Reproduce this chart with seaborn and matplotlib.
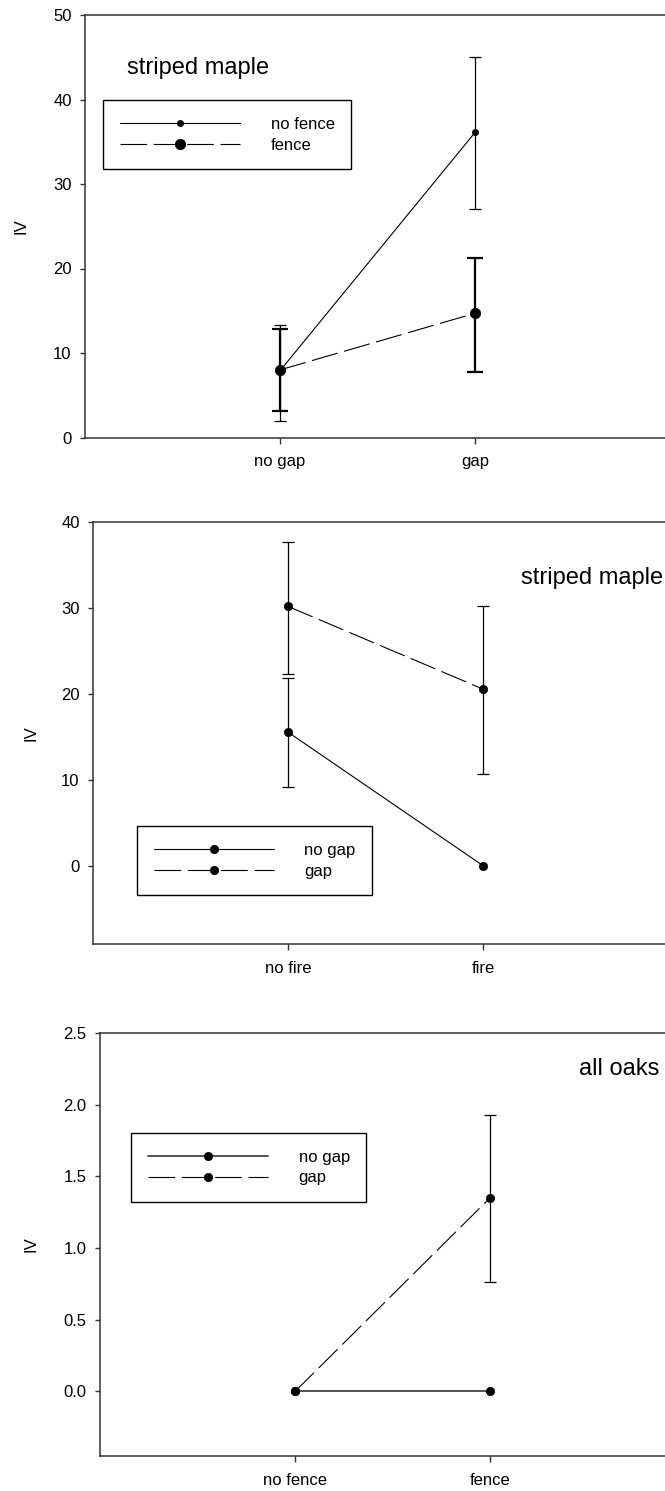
import numpy as np
import matplotlib
matplotlib.use("Agg")
import matplotlib.pyplot as plt
import seaborn as sns

# ---- data -------------------------------------------------------------
# Panel 1: striped maple, gap x fence
gap_cats = ["no gap", "gap"]
nofence_mean = [7.9, 36.1]
nofence_lo = [1.9, 27.0]
nofence_hi = [13.35, 45.0]
fence_mean = [8.0, 14.7]
fence_lo = [3.1, 7.8]
fence_hi = [12.8, 21.3]

# Panel 2: striped maple, fire x gap
fire_cats = ["no fire", "fire"]
nogap_fire_mean = [15.6, 0.1]
nogap_fire_lo = [9.2, np.nan]
nogap_fire_hi = [21.85, np.nan]
gap_fire_mean = [30.2, 20.6]
gap_fire_lo = [22.4, 10.7]
gap_fire_hi = [37.7, 30.2]

# Panel 3: all oaks, fence x gap
fence_cats = ["no fence", "fence"]
nogap_oak_mean = [0.0, 0.0]
nogap_oak_lo = [np.nan, np.nan]
nogap_oak_hi = [np.nan, np.nan]
gap_oak_mean = [0.0, 1.35]
gap_oak_lo = [np.nan, 0.76]
gap_oak_hi = [np.nan, 1.93]

# ---- style ------------------------------------------------------------
sns.set_style("ticks")
plt.rcParams["font.family"] = ["Liberation Sans", "DejaVu Sans"]
plt.rcParams["font.size"] = 12
plt.rcParams["text.color"] = "black"
plt.rcParams["axes.labelcolor"] = "black"
plt.rcParams["xtick.labelcolor"] = "black"
plt.rcParams["ytick.labelcolor"] = "black"

AXCOL = "#333333"
LONG_DASH = (0, (24, 6))


def draw_series(ax, cats, mean, lo, hi, label, ls, ms, elw, cap, lw=0.8, color="black"):
    sns.lineplot(x=cats, y=mean, ax=ax, color=color, linewidth=lw, linestyle=ls,
                 marker="o", markersize=ms, markeredgecolor="black",
                 markerfacecolor="black", markeredgewidth=0.5,
                 sort=False, errorbar=None, label=label, legend=False, zorder=3)
    mean = np.asarray(mean, float)
    lo = np.asarray(lo, float)
    hi = np.asarray(hi, float)
    mask = ~np.isnan(lo)
    if mask.any():
        xs = [c for c, m in zip(cats, mask) if m]
        ax.errorbar(xs, mean[mask], yerr=[mean[mask] - lo[mask], hi[mask] - mean[mask]],
                    fmt="none", ecolor="black", elinewidth=elw, capsize=cap,
                    capthick=elw, zorder=2)


def style_axes(ax, ylim, yticks, yfmt, ylabel_x):
    ax.set_xlim(-1, 2)
    ax.set_ylim(*ylim)
    ax.set_yticks(yticks)
    ax.set_yticklabels([yfmt.format(t) for t in yticks])
    for s in ax.spines.values():
        s.set_color(AXCOL)
        s.set_linewidth(1.1)
        s.set_visible(True)
    ax.tick_params(axis="y", direction="out", length=3.6, width=1, color=AXCOL,
                   pad=6, labelsize=12, right=False, labelcolor="black")
    ax.tick_params(axis="x", direction="out", length=4, width=1, color=AXCOL,
                   pad=8, labelsize=12, top=False, labelcolor="black")
    ax.set_xlabel("")
    ax.set_ylabel("IV", fontsize=12, color="black")
    ax.yaxis.set_label_coords(ylabel_x, 0.5)


def add_legend(ax, anchor):
    leg = ax.legend(loc="upper left", bbox_to_anchor=anchor, borderaxespad=0,
                    frameon=True, fancybox=False, edgecolor="black", framealpha=1,
                    handlelength=7.2, handletextpad=1.85, borderpad=1.0,
                    labelspacing=0.35, fontsize=12, numpoints=1)
    leg.get_frame().set_linewidth(1.0)
    for t in leg.get_texts():
        t.set_color("black")


fig = plt.figure(figsize=(6.65, 14.91), dpi=100)
W, H = 665.0, 1491.0


def axes_px(left, top, bottom):
    return fig.add_axes([left / W, 1 - bottom / H, 585 / W, (bottom - top) / H])


# ---- panel 1 ----------------------------------------------------------
ax1 = axes_px(85, 15, 437.5)
draw_series(ax1, gap_cats, nofence_mean, nofence_lo, nofence_hi, "no fence",
            "-", 4.5, 0.9, 4.5)
draw_series(ax1, gap_cats, fence_mean, fence_lo, fence_hi, "fence",
            LONG_DASH, 7.5, 1.6, 6)
style_axes(ax1, (0, 50), [0, 10, 20, 30, 40, 50], "{:g}", -0.097)
ax1.text(0.0718, 0.874, "striped maple", transform=ax1.transAxes, fontsize=17,
         ha="left", va="center", color="black")
add_legend(ax1, (0.0308, 0.7986))

# ---- panel 2 ----------------------------------------------------------
ax2 = axes_px(93, 522, 944)
draw_series(ax2, fire_cats, nogap_fire_mean, nogap_fire_lo, nogap_fire_hi, "no gap",
            "-", 6, 0.9, 4.5)
draw_series(ax2, fire_cats, gap_fire_mean, gap_fire_lo, gap_fire_hi, "gap",
            LONG_DASH, 6, 0.9, 4.5)
style_axes(ax2, (-9, 40), [0, 10, 20, 30, 40], "{:g}", -0.094)
ax2.text(0.7316, 0.867, "striped maple", transform=ax2.transAxes, fontsize=17,
         ha="left", va="center", color="black")
add_legend(ax2, (0.0752, 0.2796))

# ---- panel 3 ----------------------------------------------------------
ax3 = axes_px(100, 1033, 1456)
draw_series(ax3, fence_cats, nogap_oak_mean, nogap_oak_lo, nogap_oak_hi, "no gap",
            "-", 6, 0.9, 4.5, lw=1.3, color="#444444")
draw_series(ax3, fence_cats, gap_oak_mean, gap_oak_lo, gap_oak_hi, "gap",
            LONG_DASH, 6, 0.9, 4.5)
style_axes(ax3, (-0.45, 2.5), [0.0, 0.5, 1.0, 1.5, 2.0, 2.5], "{:.1f}", -0.105)
ax3.text(0.8188, 0.915, "all oaks", transform=ax3.transAxes, fontsize=17,
         ha="left", va="center", color="black")
add_legend(ax3, (0.053, 0.7636))

fig.savefig("out.png", dpi=100)
